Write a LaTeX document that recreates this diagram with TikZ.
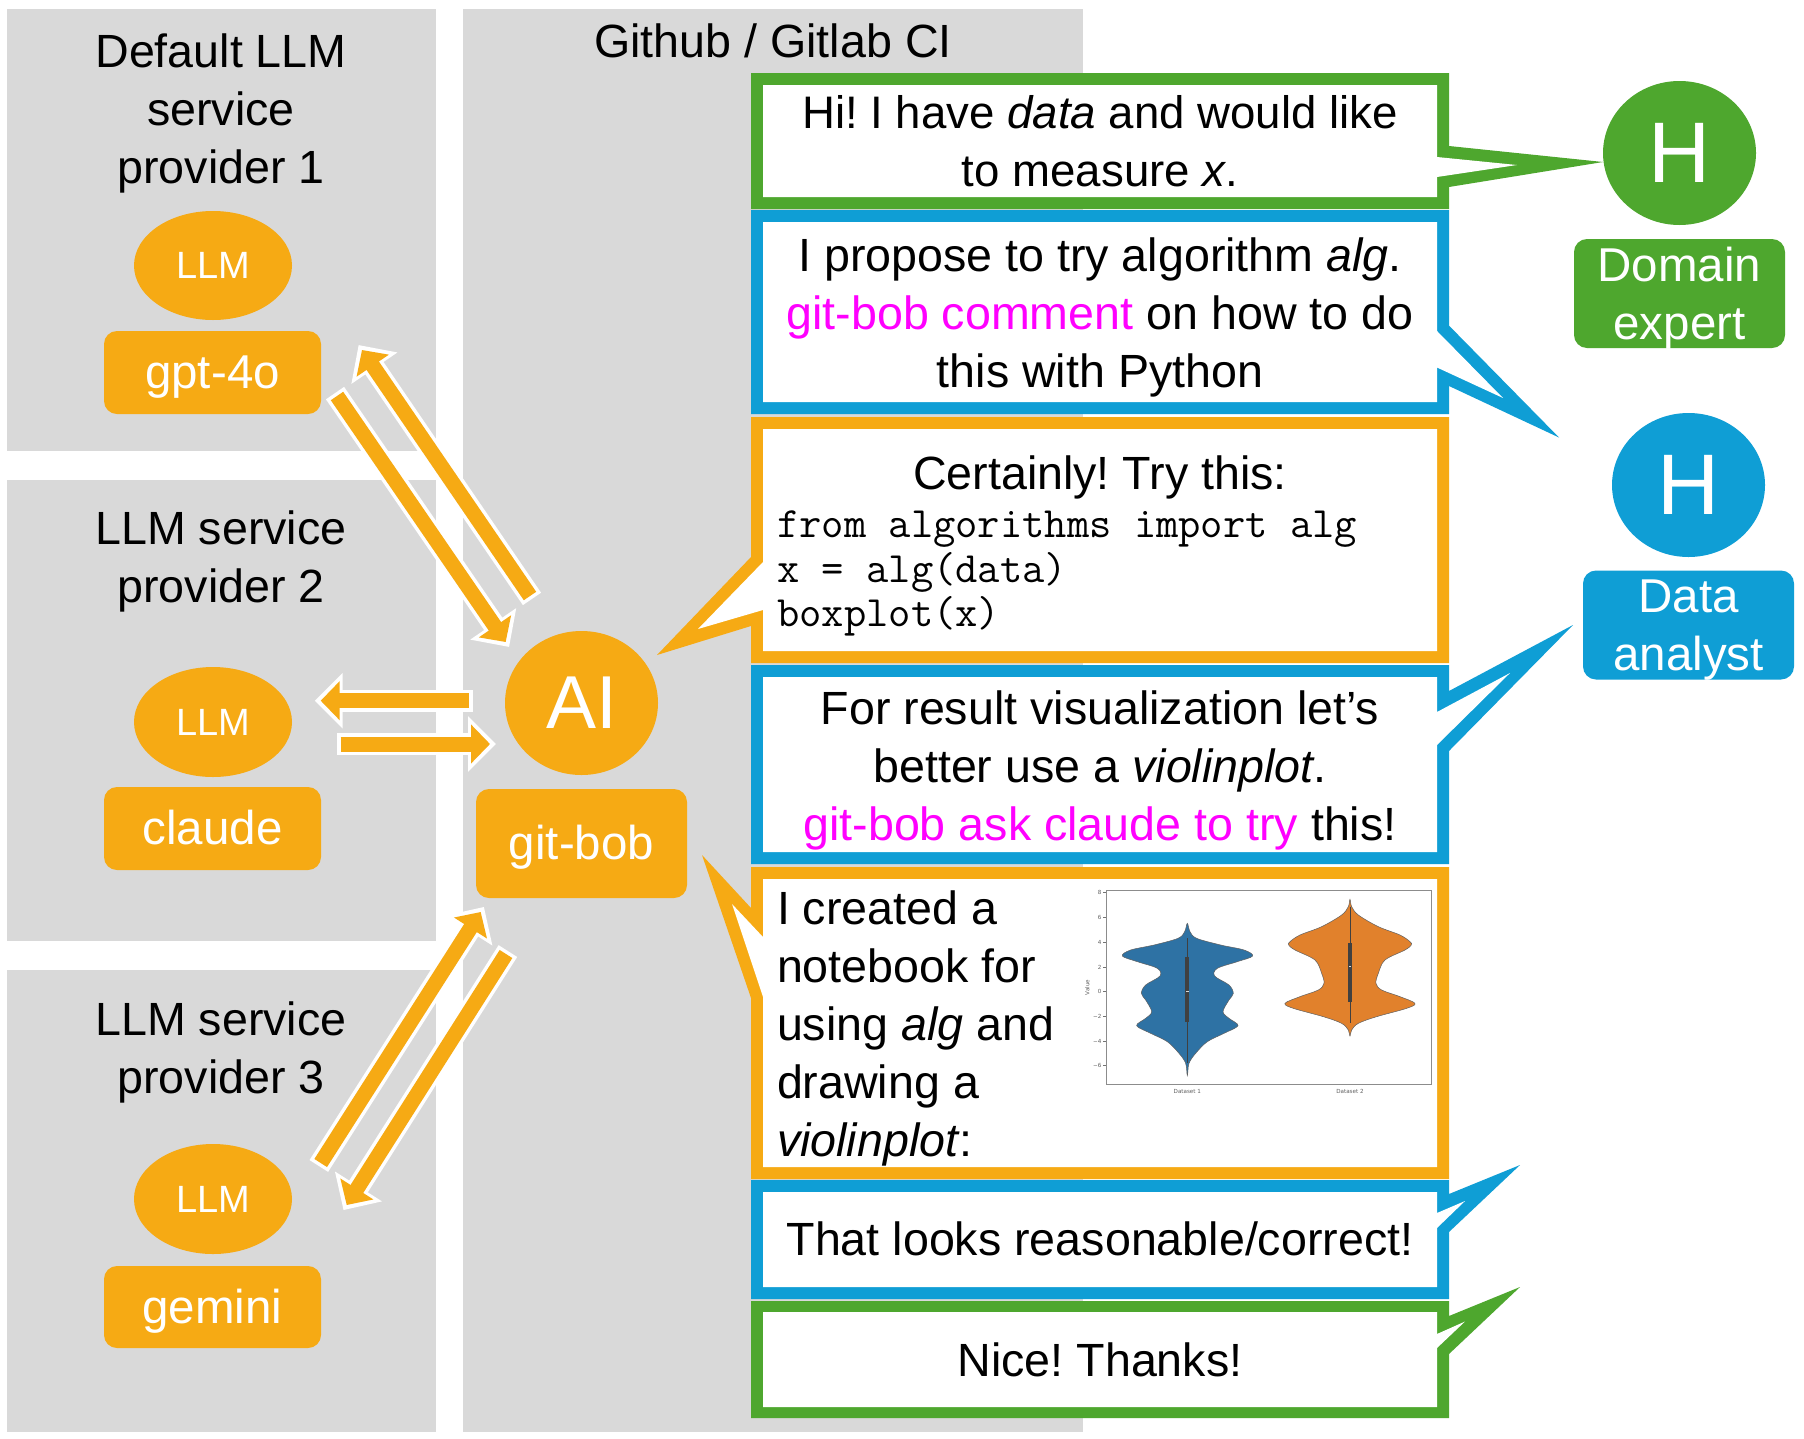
\documentclass[tikz,border=0pt]{standalone}
\usepackage{fontspec}
\setmainfont{Liberation Sans}
\newfontfamily\plotfont{DejaVu Sans}
\usetikzlibrary{arrows.meta,shapes.geometric}
\definecolor{cgreen}{HTML}{4EA72E}
\definecolor{cblue}{HTML}{0F9ED5}
\definecolor{corange}{HTML}{F6AA14}
\definecolor{cgrey}{HTML}{D9D9D9}
\definecolor{cmag}{HTML}{FF00FF}
\definecolor{vblue}{HTML}{2E72A4}
\definecolor{vorange}{HTML}{E1812C}
\definecolor{vgrey}{HTML}{606060}
\newcommand{\sz}[2]{\fontsize{#1}{#2}\selectfont}
\newcommand{\mg}[1]{\textcolor{cmag}{#1}}
\newcommand{\bubble}[3]{\fill[#1] #2 -- cycle; \fill[white] #3 -- cycle;}
\newcommand{\blockarrow}[2]{%
  \draw[arrowwhite] (#1) -- (#2);
  \draw[arroworange] (#1) -- (#2);}
\frenchspacing
\tikzset{
  panel/.style={fill=cgrey,draw=none},
  msg/.style={inner sep=0pt,outer sep=0pt,align=center,font=\sz{46.6}{58},text=black},
  title/.style={msg},
  modelbox/.style={fill=corange,rounded corners=13pt,inner sep=0pt,text=white,font=\sz{47.5}{50},text height=34pt,text depth=2pt},
  llm/.style={ellipse,fill=corange,inner sep=0pt,text=white,font=\sz{38}{46}},
  labelbox/.style={rounded corners=13pt,inner sep=0pt,minimum width=211pt,minimum height=109pt},
  whitelabel/.style={inner sep=0pt,align=center,text=white,font=\sz{47.5}{58}},
  bigletter/.style={ellipse,inner sep=0pt,text=white,font=\sz{86}{90}},
  arrowwhite/.style={white,line width=22pt,shorten >=-6pt,shorten <=-3.5pt,-{Triangle[length=28pt,width=54pt]}},
  arroworange/.style={corange,line width=15pt,-{Triangle[length=19pt,width=38pt]}},
  violin/.style={draw=vgrey,line width=.5pt,smooth cycle,tension=.55},
  tick label/.style={inner sep=0pt,font=\plotfont\sz{5.6}{6},text=vgrey},
}
\begin{document}
\begin{tikzpicture}[x=1pt,y=-1pt]
\useasboundingbox (0,0) rectangle (1804,1438);
\fill[white] (0,0) rectangle (1804,1438);
% panels
\fill[panel] (7,9) rectangle (436,451);
\fill[panel] (7,480) rectangle (436,941);
\fill[panel] (7,970) rectangle (436,1432);
\fill[panel] (463,9) rectangle (1083,1432);
\node[title] (t1) at (221,113) {Default LLM\\service\\provider 1};
\node[title] (t2) at (221,561) {LLM service\\provider 2};
\node[title] (t3) at (221,1052) {LLM service\\provider 3};
\node[title] (t4) at (773,41) {Github / Gitlab CI};
% LLM
\node[llm,minimum width=158pt,minimum height=109pt] (llm1) at (213,265.5) {LLM};
\node[llm,minimum width=158pt,minimum height=110pt] (llm2) at (213,722) {LLM};
\node[llm,minimum width=158pt,minimum height=110pt] (llm3) at (213,1199) {LLM};
\node[modelbox,minimum width=217pt,minimum height=83pt] (gpt) at (212.5,372.5) {gpt-4o};
\node[modelbox,minimum width=217pt,minimum height=83pt] (claude) at (212.5,828.5) {claude};
\node[modelbox,minimum width=217pt,minimum height=82pt] (gemini) at (212.5,1307) {gemini};
% AI
\node[bigletter,fill=corange,minimum width=153pt,minimum height=144pt,font=\sz{75}{90}] (ai) at (581.5,703) {AI};
\node[modelbox,minimum width=211pt,minimum height=109pt] (bob) at (581.5,843.5) {git-bob};
% humans
\node[bigletter,fill=cgreen,minimum width=153pt,minimum height=144pt] (h1) at (1679.5,153) {H};
\node[labelbox,fill=cgreen] (dom) at (1679.5,293.5) {};
\node[whitelabel] (domt) at (1679.5,298) {Domain\\expert};
\node[bigletter,fill=cblue,minimum width=153pt,minimum height=144pt] (h2) at (1688.5,485) {H};
\node[labelbox,fill=cblue] (ana) at (1688.5,625) {};
\node[whitelabel] (anat) at (1688.5,630.5) {Data\\analyst};
% arrows
\coordinate (a1) at (530,596); \coordinate (a2) at (362,350);
\coordinate (b1) at (337,396); \coordinate (b2) at (505.7,642);
\coordinate (c1) at (469,700.7); \coordinate (c2) at (320.7,700.7);
\coordinate (d1) at (340.7,744); \coordinate (d2) at (490,744);
\coordinate (e1) at (320.7,1163); \coordinate (e2) at (480.7,912);
\coordinate (f1) at (506,954); \coordinate (f2) at (346.7,1205);
\blockarrow{a1}{a2}
\blockarrow{b1}{b2}
\blockarrow{c1}{c2}
\blockarrow{d1}{d2}
\blockarrow{e1}{e2}
\blockarrow{f1}{f2}
% bubbles
\bubble{cgreen}{(751,73) -- (1449,73) -- (1449,146) -- (1603,162) -- (1449,187) -- (1449,209) -- (751,209)}{(763,85) -- (1437,85) -- (1437,157) -- (1517,165) -- (1437,177) -- (1437,197) -- (763,197)}
\bubble{cblue}{(751,210) -- (1449,210) -- (1449,325.6) -- (1559,437.5) -- (1449,386) -- (1449,414) -- (751,414)}{(763,222) -- (1437,222) -- (1437,331) -- (1503,398) -- (1437,367.5) -- (1437,402) -- (763,402)}
\bubble{corange}{(751,417) -- (1449,417) -- (1449,663) -- (751,663) -- (751,626) -- (657,655) -- (751,557)}{(763,429) -- (1437,429) -- (1437,651) -- (763,651) -- (763,610) -- (698,629) -- (763,562)}
\bubble{cblue}{(751,665) -- (1449,665) -- (1449,691) -- (1573,625) -- (1449,751) -- (1449,864) -- (751,864)}{(763,677) -- (1437,677) -- (1437,712) -- (1510,673) -- (1437,745) -- (1437,852) -- (763,852)}
\bubble{corange}{(751,867) -- (1449,867) -- (1449,1179) -- (751,1179) -- (751,998) -- (702,855) -- (751,908)}{(763,879) -- (1437,879) -- (1437,1167) -- (763,1167) -- (763,997) -- (732,904) -- (763,937)}
\bubble{cblue}{(751,1180) -- (1449,1180) -- (1449,1194) -- (1520,1165) -- (1449,1232) -- (1449,1299) -- (751,1299)}{(763,1192) -- (1437,1192) -- (1437,1213) -- (1465,1201) -- (1437,1228) -- (1437,1287) -- (763,1287)}
\bubble{cgreen}{(751,1301) -- (1449,1301) -- (1449,1316) -- (1520,1287) -- (1449,1354) -- (1449,1418) -- (751,1418)}{(763,1312) -- (1437,1312) -- (1437,1334) -- (1465,1321.5) -- (1437,1348) -- (1437,1407) -- (763,1407)}
% texts
\node[msg,font=\sz{45.6}{58}] (m1) at (1100,141) {Hi! I have \textit{data} and would like\\to measure \textit{x}.};
\node[msg] (m2) at (1100,317) {I propose to try algorithm \textit{alg}.\\\mg{git-bob comment} on how to do\\this with Python};
\node[msg] (m3) at (1100,477.5) {Certainly! Try this:};
\node[inner sep=0pt,align=left,anchor=north west,font=\ttfamily\sz{43.3}{44.3}] (code) at (777,511) {from algorithms import alg\\x = alg(data)\\boxplot(x)};
\node[msg] (m4) at (1100,770) {For result visualization let’s\\better use a \textit{violinplot}.\\\mg{git-bob ask claude to try} this!};
\node[msg,align=left,anchor=west] (m5) at (777,1028) {I created a\\notebook for\\using \textit{alg} and\\drawing a\\\textit{violinplot}:};
\node[msg] (m6) at (1100,1239) {That looks reasonable/correct!};
\node[msg] (m7) at (1100,1360) {Nice! Thanks!};
% embedded plot
\begin{scope}[shift={(1060,870)},x=.3333pt,y=-.3333pt]
\draw[draw=black!45,line width=.7pt] (138,62) rectangle (1115,642);
\foreach \v/\yy/\lab in {8/68/8,6/143/6,4/217/4,2/291/2,0/365/0,-2/439/−2,-4/513/−4,-6/587/−6}{
  \draw[black!55,line width=.4pt] (130,\yy) -- (138,\yy);
  \node[tick label,anchor=east] (tick\v) at (125,\yy) {\lab};
}
\node[tick label,rotate=90] (vlab) at (82,353) {Value};
\node[tick label] (ds1) at (382,664) {Dataset 1};
\node[tick label] (ds2) at (870,664) {Dataset 2};
\fill[vblue,violin] plot coordinates {(382,160) (390,185) (410,205) (482,225) (552,240) (578,258) (532,275) (472,295) (464,318) (507,345) (520,370) (507,390) (489,425) (507,445) (534,467) (492,490) (442,515) (407,550) (387,580) (382,617) (377,580) (357,550) (322,515) (272,490) (230,467) (257,445) (275,425) (257,390) (244,370) (257,345) (300,318) (292,295) (232,275) (187,258) (212,240) (282,225) (354,205) (374,185)};
\fill[vorange,violin] plot coordinates {(870,88) (875,110) (895,135) (955,170) (1020,195) (1050,215) (1054,225) (1035,240) (975,270) (955,310) (948,340) (965,360) (1020,380) (1065,400) (1040,415) (950,440) (895,460) (875,480) (870,498) (865,480) (845,460) (790,440) (700,415) (675,400) (720,380) (775,360) (792,340) (785,310) (765,270) (705,240) (686,225) (690,215) (720,195) (785,170) (845,135) (865,110)};
\draw[black!75,line width=.6pt] (382,205) -- (382,580);
\fill[black!75] (376,262) rectangle (388,457);
\fill[white!85!black] (378,364) rectangle (386,366.5);
\draw[black!75,line width=.6pt] (870,110) -- (870,460);
\fill[black!75] (865,220) rectangle (875,395);
\fill[white!85!black] (866,288) rectangle (874,290.5);
\end{scope}
\end{tikzpicture}
\end{document}
